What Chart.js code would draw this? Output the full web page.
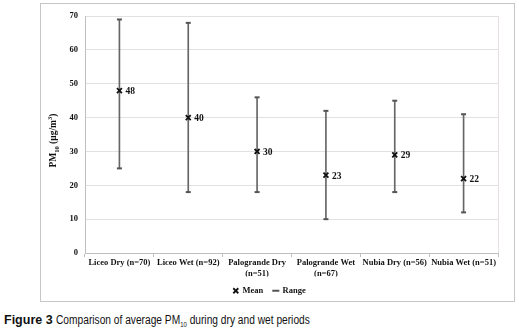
<!DOCTYPE html>
<html>
<head>
<meta charset="utf-8">
<script src="https://cdn.jsdelivr.net/npm/chart.js@4.4.0/dist/chart.umd.min.js"></script>
<style>
  body { margin: 0; background: #fff; }
  #box { position: absolute; left: 40px; top: 3px; width: 473px; height: 297px; border: 1px solid #c6c6c6; }
  #caption { position: absolute; left: 4px; top: 313px; font-family: "Liberation Sans", Arial, sans-serif; font-size: 12px; color: #111; white-space: nowrap; }
  #caption b { font-size: 12.5px; }
  #caption .rest { display: inline-block; transform: scaleX(0.85); transform-origin: left center; }
  #caption sub { font-size: 7px; }
</style>
</head>
<body>
<div id="box"><canvas id="myChart" width="473" height="297"></canvas></div>
<div id="caption"><b>Figure 3</b> <span class="rest">Comparison of average PM<sub>10</sub> during dry and wet periods</span></div>
<script>
const labels = [
  'Liceo Dry (n=70)',
  'Liceo Wet (n=92)',
  ['Palogrande Dry', '(n=51)'],
  ['Palogrande Wet', '(n=67)'],
  'Nubia Dry (n=56)',
  'Nubia Wet (n=51)'
];
const means = [48, 40, 30, 23, 29, 22];
const maxs = [69, 68, 46, 42, 45, 41];
const mins = [25, 18, 18, 10, 18, 12];
const yTicks = [0, 10, 20, 30, 40, 50, 60, 70];

const serif = 'Liberation Serif, "Times New Roman", serif';

const extras = {
  id: 'extras',
  afterDatasetsDraw(chart) {
    const ctx = chart.ctx;
    const meta = chart.getDatasetMeta(3);
    ctx.save();
    ctx.font = 'bold 9.5px ' + serif;
    ctx.fillStyle = '#111';
    ctx.textBaseline = 'middle';
    meta.data.forEach((pt, i) => {
      ctx.fillText(String(means[i]), pt.x + 6, pt.y + 1);
    });
    ctx.restore();
  },
  afterDraw(chart) {
    const ctx = chart.ctx;
    const a = chart.chartArea;
    ctx.save();
    // right edge of plot area
    ctx.strokeStyle = '#e6e0de';
    ctx.lineWidth = 1;
    ctx.beginPath();
    ctx.moveTo(Math.round(a.right) + 0.5, a.top);
    ctx.lineTo(Math.round(a.right) + 0.5, a.bottom);
    ctx.stroke();
    // y title with subscript / superscript
    const cy = (a.top + a.bottom) / 2 + 6;
    ctx.translate(12, cy);
    ctx.rotate(-Math.PI / 2);
    ctx.fillStyle = '#111';
    ctx.textBaseline = 'alphabetic';
    const big = 'bold 9.5px ' + serif, small = 'bold 6.5px ' + serif;
    const parts = [['PM', big, 0], ['10', small, 2.5], [' (\u00b5g/m', big, 0], ['3', small, -4], [')', big, 0]];
    let w = 0;
    parts.forEach(p => { ctx.font = p[1]; w += ctx.measureText(p[0]).width; });
    let x = -w / 2;
    parts.forEach(p => {
      ctx.font = p[1];
      ctx.fillText(p[0], x, 3 + p[2]);
      x += ctx.measureText(p[0]).width;
    });
    ctx.restore();
  }
};

const ctx = document.getElementById('myChart');
const myChart = new Chart(ctx, {
  type: 'bar',
  data: {
    labels: labels,
    datasets: [
      {
        type: 'bar',
        label: 'HighLow',
        data: mins.map((m, i) => [m, maxs[i]]),
        backgroundColor: '#666',
        barThickness: 1,
        order: 3
      },
      {
        type: 'line',
        label: 'Range',
        data: maxs,
        showLine: false,
        pointStyle: 'line',
        pointRadius: 2.5,
        borderColor: '#555',
        backgroundColor: '#555',
        pointBorderWidth: 2,
        order: 2
      },
      {
        type: 'line',
        label: 'RangeMin',
        data: mins,
        showLine: false,
        pointStyle: 'line',
        pointRadius: 2.5,
        borderColor: '#555',
        backgroundColor: '#555',
        pointBorderWidth: 2,
        order: 2
      },
      {
        type: 'line',
        label: 'Mean',
        data: means,
        showLine: false,
        pointStyle: 'crossRot',
        pointRadius: 3.5,
        borderColor: '#111',
        backgroundColor: '#111',
        pointBorderWidth: 1.8,
        order: 1
      }
    ]
  },
  options: {
    responsive: false,
    animation: false,
    layout: { padding: { top: 12, right: 16, left: 0, bottom: -4 } },
    scales: {
      x: {
        offset: true,
        clip: false,
        grid: { offset: true, drawOnChartArea: false, color: '#bfbfbf', tickLength: 4 },
        border: { color: '#bfbfbf' },
        ticks: { color: '#111', font: { family: serif, size: 8.5, weight: 'bold' }, maxRotation: 0, autoSkip: false, padding: 1 },
        afterFit(scale) { scale.height = 23.5; }
      },
      y: {
        min: 0,
        max: 70,
        afterBuildTicks(scale) { scale.ticks = yTicks.map(v => ({ value: v })); },
        grid: { color: '#e3e0df', drawTicks: false },
        border: { color: '#bfbfbf' },
        ticks: { color: '#111', font: { family: serif, size: 8.5, weight: 'bold' }, padding: 7 },
        afterFit(scale) { scale.width = 44; }
      }
    },
    plugins: {
      tooltip: { enabled: false },
      legend: {
        position: 'bottom',
        labels: {
          usePointStyle: true,
          boxWidth: 5,
          boxHeight: 5,
          padding: 10,
          color: '#111',
          font: { family: serif, size: 8.5, weight: 'bold' },
          filter: item => item.text === 'Mean' || item.text === 'Range',
          sort: (a, b) => (a.text === 'Mean' ? -1 : 1)
        }
      }
    }
  },
  plugins: [extras]
});
</script>
</body>
</html>
